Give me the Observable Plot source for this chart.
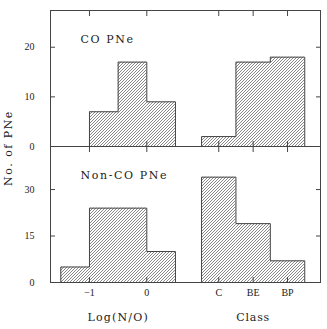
<!DOCTYPE html>
<html>
<head>
<meta charset="utf-8">
<script src="https://cdn.jsdelivr.net/npm/d3@7"></script>
<script src="https://cdn.jsdelivr.net/npm/@observablehq/plot@0.6"></script>
<style>
  html, body { margin: 0; padding: 0; background: #fff; }
  #chart { position: relative; width: 327px; height: 329px; overflow: hidden; }
  #chart svg.plot-panel { position: absolute; left: 0; overflow: visible; }
  .ylab { position: absolute; left: 8px; top: 148px; transform: translate(-50%, -50%) rotate(-90deg);
          white-space: nowrap; font-family: "DejaVu Serif", serif; font-size: 11px; letter-spacing: 1.5px; color: #222; }
</style>
</head>
<body>
<svg width="0" height="0" style="position:absolute">
  <defs>
    <pattern id="hatch" width="3" height="3" patternUnits="userSpaceOnUse">
      <path d="M-1,1 l2,-2 M0,3 l3,-3 M2,4 l2,-2" stroke="#555" stroke-width="0.7" fill="none"/>
    </pattern>
  </defs>
</svg>
<div id="chart"></div>
<script>
// ---- data ----
const logNOBinStarts = [-1.5, -1.0, -0.5, 0.0];   // Log(N/O) bins, width 0.5
const logNOBinWidth = 0.5;
const coLogNO = [0, 7, 17, 9];
const nonCoLogNO = [5, 24, 24, 10];
const classes = ["C", "BE", "BP"];
const coClass = [2, 17, 18];
const nonCoClass = [34, 19, 7];
const logNOTicks = [-1, 0];
const coYTicks = [0, 10, 20];
const nonCoYTicks = [0, 15, 30];
const panelTitles = ["CO PNe", "Non-CO PNe"];
const xTitles = ["Log(N/O)", "Class"];
const yTitle = "No. of PNe";

// ---- layout (shared x axis: Log(N/O) on the left, classes on the right) ----
const xDomain = [-1.68, 3.03];
const classStart = 0.955, classWidth = 0.6;
const classCenter = i => classStart + (i + 0.5) * classWidth;

function logNOBins(vals) {
  return vals.map((v, i) => ({x1: logNOBinStarts[i], x2: logNOBinStarts[i] + logNOBinWidth, y: v}));
}
function classBins(vals) {
  return vals.map((v, i) => ({x1: classStart + i * classWidth, x2: classStart + (i + 1) * classWidth, y: v}));
}
function outline(bins) {
  const b = bins.filter(d => d.y > 0);
  const pts = [{x: b[0].x1, y: 0}];
  for (const d of b) { pts.push({x: d.x1, y: d.y}); pts.push({x: d.x2, y: d.y}); }
  pts.push({x: b[b.length - 1].x2, y: 0});
  return pts;
}

const xTickPos = [...logNOTicks, ...classes.map((c, i) => classCenter(i))];
const xTickLabel = new Map([...logNOTicks.map(t => [t, t === 0 ? "0" : "\u2212" + Math.abs(t)]),
                            ...classes.map((c, i) => [classCenter(i), c])]);

const lineColor = "#444";
const textColor = "#222";
const spaced = new Map([[panelTitles[0], "1.6px"], [panelTitles[1], "1.6px"], [xTitles[0], "1.2px"], [xTitles[1], "0.8px"]]);

function panel({top, height, marginTop, marginBottom, yDomain, yTicks, noVals, clVals, title, titleDy, xLabels}) {
  const nb = logNOBins(noVals), cb = classBins(clVals);
  const marks = [
    Plot.rectY(nb.filter(d => d.y > 0), {x1: "x1", x2: "x2", y: "y", fill: "url(#hatch)"}),
    Plot.rectY(cb.filter(d => d.y > 0), {x1: "x1", x2: "x2", y: "y", fill: "url(#hatch)"}),
    Plot.line(outline(nb), {x: "x", y: "y", stroke: lineColor, strokeWidth: 1}),
    Plot.line(outline(cb), {x: "x", y: "y", stroke: lineColor, strokeWidth: 1}),
    Plot.frame({stroke: lineColor}),
    Plot.axisY({ticks: yTicks, anchor: "left", tickSize: -5, tickFormat: () => "", label: null, stroke: lineColor}),
    Plot.axisY({ticks: yTicks, anchor: "right", tickSize: -5, tickFormat: () => "", label: null, stroke: lineColor}),
    Plot.axisY({ticks: yTicks, anchor: "left", tickSize: 0, tickPadding: 16, label: null, fill: textColor,
                fontFamily: "Liberation Serif", fontSize: 10}),
    Plot.axisX({ticks: xTickPos, anchor: "top", tickSize: -5, tickFormat: () => "", label: null, stroke: lineColor}),
    Plot.axisX({ticks: xTickPos, anchor: "bottom", tickSize: -5, tickFormat: () => "", label: null, stroke: lineColor}),
    Plot.text([title], {frameAnchor: "top-left", dx: 30, dy: titleDy, textAnchor: "start", lineAnchor: "bottom",
                        fill: textColor, fontFamily: "DejaVu Serif", fontSize: 11})
  ];
  if (xLabels) {
    marks.push(Plot.axisX({ticks: xTickPos, anchor: "bottom", tickSize: 0, tickPadding: 6, label: null,
                           tickFormat: d => xTickLabel.get(d), fill: textColor,
                           fontFamily: "Liberation Serif", fontSize: 10}));
    marks.push(Plot.text(xTitles, {
      x: [logNOBinStarts[0] + (logNOBinStarts.length * logNOBinWidth) / 2, classCenter(1)],
      frameAnchor: "bottom", dy: 38, textAnchor: "middle", lineAnchor: "bottom", fill: textColor,
      fontFamily: "DejaVu Serif", fontSize: 11}));
  }
  const svg = Plot.plot({
    width: 327, height, marginLeft: 50, marginRight: 7, marginTop, marginBottom,
    x: {domain: xDomain, axis: null},
    y: {domain: yDomain, axis: null},
    style: {background: "transparent", color: textColor, fontFamily: "Liberation Serif", fontSize: "10px"},
    marks
  });
  svg.classList.add("plot-panel");
  svg.style.top = top + "px";
  svg.querySelectorAll("text").forEach(t => {
    const s = spaced.get(t.textContent);
    if (s) t.style.letterSpacing = s;
  });
  return svg;
}

const chart = document.getElementById("chart");
chart.append(panel({top: 0, height: 150, marginTop: 10, marginBottom: 4, yDomain: [0, 27.4], yTicks: coYTicks,
                    noVals: coLogNO, clVals: coClass, title: panelTitles[0], titleDy: 32, xLabels: false}));
chart.append(panel({top: 142, height: 187, marginTop: 4, marginBottom: 47, yDomain: [0, 43.9], yTicks: nonCoYTicks,
                    noVals: nonCoLogNO, clVals: nonCoClass, title: panelTitles[1], titleDy: 32, xLabels: true}));
const yl = document.createElement("div");
yl.className = "ylab";
yl.textContent = yTitle;
chart.append(yl);
</script>
</body>
</html>
